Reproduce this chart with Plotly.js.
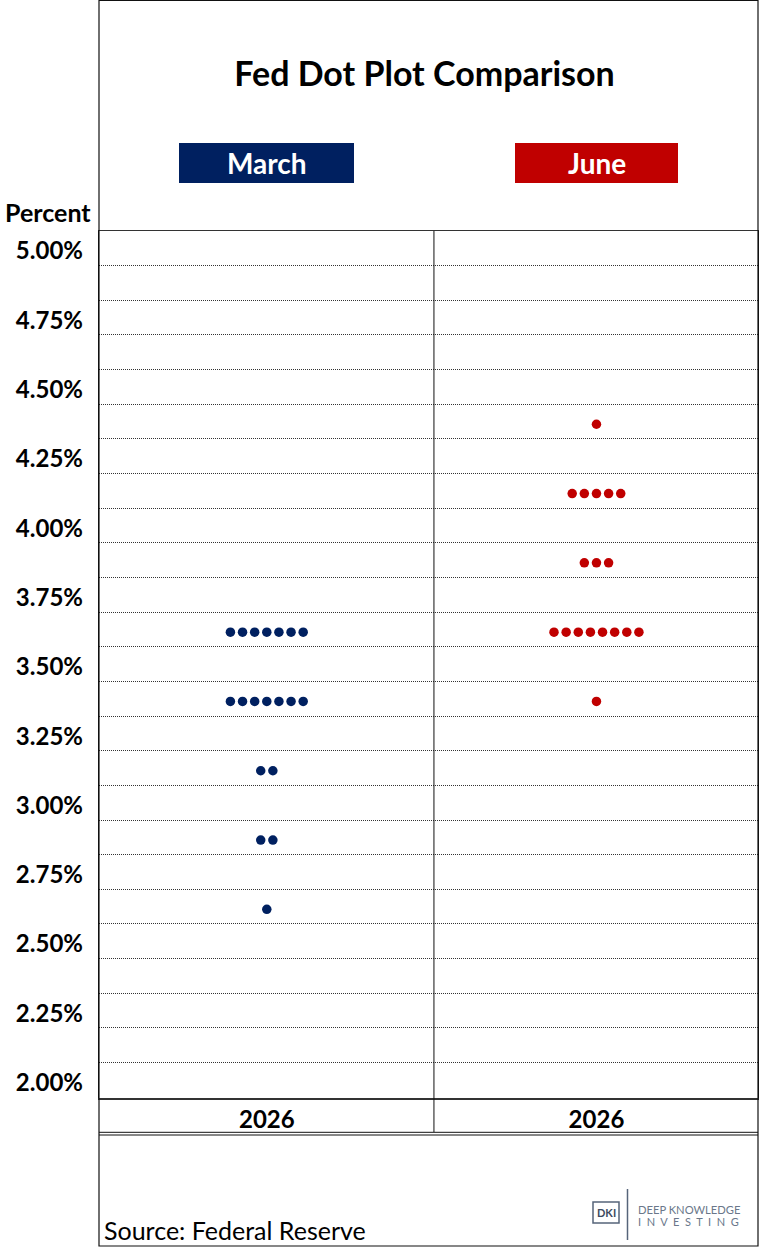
<!DOCTYPE html>
<html>
<head>
<meta charset="utf-8">
<script src="https://cdn.plot.ly/plotly-3.0.1.min.js"></script>
<style>
  html, body { margin: 0; padding: 0; background: #ffffff; }
  #grafico { width: 759px; height: 1247px; }
</style>
</head>
<body>
<div id="grafico"></div>
<script>
// Datos del gráfico
const columnNames = ['March', 'June'];
const columnYears = ['2026', '2026'];
const columnColors = ['#002060', '#C00000'];

const marchRates = [3.625, 3.375, 3.125, 2.875, 2.625];
const marchDots = [7, 7, 2, 2, 1];

const juneRates = [4.375, 4.125, 3.875, 3.625, 3.375];
const juneDots = [1, 5, 3, 8, 1];

const yTickVals = [5.00, 4.75, 4.50, 4.25, 4.00, 3.75, 3.50, 3.25, 3.00, 2.75, 2.50, 2.25, 2.00];
const yTickText = yTickVals.map(v => v.toFixed(2) + '%');

// Geometría (píxeles de la figura)
const W = 759, H = 1247;
const plotLeft = 99, plotRight = 758, plotTop = 231, plotBottom = 1098;
const plotW = plotRight - plotLeft;
const plotH = plotBottom - plotTop;
const px = x => (x - plotLeft) / plotW;        // píxel -> paper x
const py = y => (plotBottom - y) / plotH;      // píxel -> paper y

const FONT = 'Lato, "Open Sans", sans-serif';
const dotStep = 0.0368;                        // separación horizontal entre puntos (unidades x)

// Expandir cada nivel en puntos individuales centrados en su columna
function buildDots(col, rates, counts) {
    const xs = [], ys = [];
    rates.forEach((r, i) => {
        const n = counts[i];
        for (let k = 0; k < n; k++) {
            xs.push(col + (k - (n - 1) / 2) * dotStep);
            ys.push(r);
        }
    });
    return { xs, ys };
}

const m = buildDots(0, marchRates, marchDots);
const j = buildDots(1, juneRates, juneDots);

const trazas = [
    { x: m.xs, y: m.ys, type: 'scatter', mode: 'markers', name: columnNames[0],
      marker: { color: columnColors[0], size: 9.5 }, hoverinfo: 'skip' },
    { x: j.xs, y: j.ys, type: 'scatter', mode: 'markers', name: columnNames[1],
      marker: { color: columnColors[1], size: 9.5 }, hoverinfo: 'skip' }
];

const lineDark = '#333333';
const logoColor = '#56647a';

const shapes = [
    // marco exterior
    { type: 'rect', xref: 'paper', yref: 'paper', x0: px(99), x1: px(758), y0: py(1246), y1: py(0.5),
      line: { color: '#111111', width: 1.2 } },
    // divisor vertical entre columnas
    { type: 'line', xref: 'x', yref: 'paper', x0: 0.507, x1: 0.507, y0: py(1132), y1: 1,
      line: { color: '#111111', width: 1 } },
    // doble línea bajo la fila de años
    { type: 'line', xref: 'paper', yref: 'paper', x0: px(99), x1: px(758), y0: py(1132.3), y1: py(1132.3),
      line: { color: '#111111', width: 1 } },
    { type: 'line', xref: 'paper', yref: 'paper', x0: px(99), x1: px(758), y0: py(1135), y1: py(1135),
      line: { color: '#111111', width: 1 } },
    // cajas de cabecera
    { type: 'rect', xref: 'paper', yref: 'paper', x0: px(179), x1: px(354), y0: py(183), y1: py(143),
      fillcolor: columnColors[0], line: { width: 0 } },
    { type: 'rect', xref: 'paper', yref: 'paper', x0: px(515), x1: px(678), y0: py(183), y1: py(143),
      fillcolor: columnColors[1], line: { width: 0 } },
    // logo DKI
    { type: 'rect', xref: 'paper', yref: 'paper', x0: px(593), x1: px(619), y0: py(1223), y1: py(1202),
      line: { color: logoColor, width: 1.5 } },
    { type: 'line', xref: 'paper', yref: 'paper', x0: px(627.5), x1: px(627.5), y0: py(1240), y1: py(1189),
      line: { color: logoColor, width: 1.5 } }
];

const investing = 'INVESTING'.split('').join(' &nbsp;');

const annotations = [
    { text: columnNames[0], xref: 'paper', yref: 'paper', x: px(266.5), y: py(163), showarrow: false,
      xanchor: 'center', yanchor: 'middle', font: { family: FONT, size: 28, color: '#ffffff', weight: 700 } },
    { text: columnNames[1], xref: 'paper', yref: 'paper', x: px(596.5), y: py(163), showarrow: false,
      xanchor: 'center', yanchor: 'middle', font: { family: FONT, size: 28, color: '#ffffff', weight: 700 } },
    { text: 'Percent', xref: 'paper', yref: 'paper', x: px(93), y: py(212), showarrow: false,
      xanchor: 'right', yanchor: 'middle', font: { family: FONT, size: 25, color: '#000000', weight: 700 } },
    { text: 'Source: Federal Reserve', xref: 'paper', yref: 'paper', x: px(102), y: py(1230), showarrow: false,
      xanchor: 'left', yanchor: 'middle', font: { family: FONT, size: 25, color: '#000000' } },
    { text: 'DKI', xref: 'paper', yref: 'paper', x: px(606), y: py(1212.5), showarrow: false,
      xanchor: 'center', yanchor: 'middle', font: { family: FONT, size: 11, color: '#3c4a60', weight: 700 } },
    { text: 'DEEP KNOWLEDGE', xref: 'paper', yref: 'paper', x: px(636), y: py(1209), showarrow: false,
      xanchor: 'left', yanchor: 'middle', font: { family: FONT, size: 11.2, color: '#6a778a' } },
    { text: investing, xref: 'paper', yref: 'paper', x: px(636), y: py(1221), showarrow: false,
      xanchor: 'left', yanchor: 'middle', font: { family: FONT, size: 11, color: '#6a778a' } }
];

const layout = {
    width: W,
    height: H,
    paper_bgcolor: '#ffffff',
    plot_bgcolor: '#ffffff',
    margin: { l: plotLeft, r: W - plotRight, t: plotTop, b: H - plotBottom, pad: 0 },
    font: { family: FONT, color: '#000000' },
    showlegend: false,
    hovermode: false,
    title: {
        text: 'Fed Dot Plot Comparison',
        font: { family: FONT, size: 34, color: '#000000', weight: 700 },
        xref: 'container', yref: 'container',
        x: 424.5 / W, y: 1 - 74 / H,
        xanchor: 'center', yanchor: 'middle'
    },
    xaxis: {
        range: [-0.509, 1.49],
        tickmode: 'array',
        tickvals: [0, 1],
        ticktext: columnYears,
        ticks: '',
        tickfont: { family: FONT, size: 24, color: '#000000', weight: 700 },
        showgrid: false,
        zeroline: false,
        showline: true,
        mirror: true,
        linecolor: lineDark,
        linewidth: 1.5,
        fixedrange: true
    },
    yaxis: {
        range: [1.9444, 5.0722],
        tickmode: 'array',
        tickvals: yTickVals,
        ticktext: yTickText,
        ticks: '',
        ticklabelstandoff: 10,
        tickfont: { family: FONT, size: 24, color: '#000000', weight: 700 },
        showgrid: false,
        zeroline: false,
        showline: true,
        mirror: true,
        linecolor: '#111111',
        linewidth: 1.2,
        minor: {
            tickmode: 'linear',
            tick0: 4.9472,
            dtick: 0.125,
            ticks: '',
            showgrid: true,
            gridcolor: '#333333',
            gridwidth: 1,
            griddash: '1px,1px'
        },
        fixedrange: true
    },
    shapes: shapes,
    annotations: annotations
};

Plotly.newPlot('grafico', trazas, layout, { displayModeBar: false, staticPlot: true });
</script>
</body>
</html>
